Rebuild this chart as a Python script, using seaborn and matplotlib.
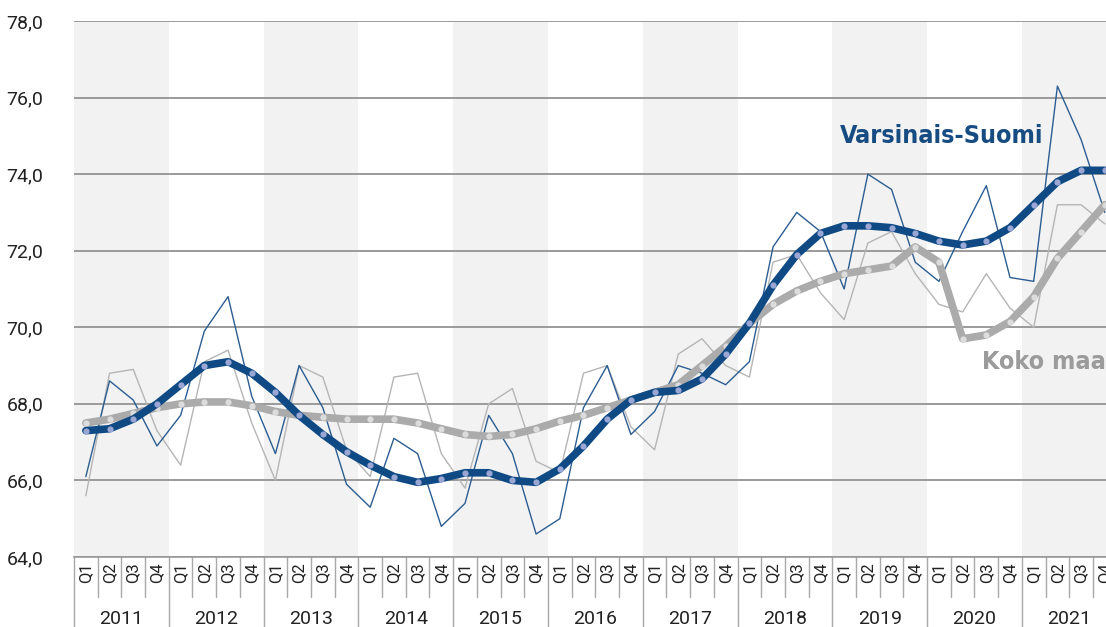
import numpy as np
import pandas as pd
import matplotlib
matplotlib.use("Agg")
import matplotlib.pyplot as plt
import seaborn as sns

years = [str(y) for y in range(2011, 2022)]
quarters = ["Q1", "Q2", "Q3", "Q4"]

# Varsinais-Suomi, quarterly raw values
vs_raw = [66.1, 68.6, 68.1, 66.9,
          67.7, 69.9, 70.8, 68.2,
          66.7, 69.0, 67.9, 65.9,
          65.3, 67.1, 66.7, 64.8,
          65.4, 67.7, 66.7, 64.6,
          65.0, 67.9, 69.0, 67.2,
          67.8, 69.0, 68.8, 68.5,
          69.1, 72.1, 73.0, 72.5,
          71.0, 74.0, 73.6, 71.7,
          71.2, 72.5, 73.7, 71.3,
          71.2, 76.3, 74.9, 73.0]
# Varsinais-Suomi trend
vs_trend = [67.3, 67.35, 67.6, 68.0,
            68.5, 69.0, 69.1, 68.8,
            68.3, 67.7, 67.2, 66.75,
            66.4, 66.1, 65.95, 66.05,
            66.2, 66.2, 66.0, 65.95,
            66.3, 66.9, 67.6, 68.1,
            68.3, 68.35, 68.65, 69.3,
            70.1, 71.1, 71.9, 72.45,
            72.65, 72.65, 72.6, 72.45,
            72.25, 72.15, 72.25, 72.6,
            73.2, 73.8, 74.1, 74.1]
# Koko maa, quarterly raw values
km_raw = [65.6, 68.8, 68.9, 67.3,
          66.4, 69.1, 69.4, 67.5,
          66.0, 69.0, 68.7, 66.8,
          66.1, 68.7, 68.8, 66.7,
          65.8, 68.0, 68.4, 66.5,
          66.2, 68.8, 69.0, 67.4,
          66.8, 69.3, 69.7, 69.0,
          68.7, 71.7, 71.9, 70.9,
          70.2, 72.2, 72.5, 71.4,
          70.6, 70.4, 71.4, 70.5,
          70.0, 73.2, 73.2, 72.7]
# Koko maa trend
km_trend = [67.5, 67.6, 67.75, 67.9,
            68.0, 68.05, 68.05, 67.95,
            67.8, 67.7, 67.65, 67.6,
            67.6, 67.6, 67.5, 67.35,
            67.2, 67.15, 67.2, 67.35,
            67.55, 67.7, 67.9, 68.1,
            68.3, 68.5, 69.0, 69.5,
            70.1, 70.6, 70.95, 71.2,
            71.4, 71.5, 71.6, 72.1,
            71.7, 69.7, 69.8, 70.15,
            70.8, 71.8, 72.5, 73.2]

n = len(vs_raw)
df = pd.DataFrame({"t": np.arange(n), "vs_raw": vs_raw, "vs_trend": vs_trend,
                   "km_raw": km_raw, "km_trend": km_trend})

sns.set_style("white")
plt.rcParams["font.family"] = ["Roboto", "DejaVu Sans"]

fig = plt.figure(figsize=(11.06, 6.27), dpi=100)
ax = fig.add_axes([74 / 1106, 70 / 627, 1 - 74 / 1106, 536 / 627])

# alternating year shading
for k in range(len(years)):
    if k % 2 == 0:
        ax.axvspan(4 * k - 0.5, 4 * k + 3.5, color="#f2f2f2", lw=0, zorder=0)

for v in range(64, 79, 2):
    ax.axhline(v, color="#9a9a9a", lw=1.4, zorder=1)

blue = "#0f4a85"
gray = "#ababab"
sns.lineplot(data=df, x="t", y="km_raw", ax=ax, color="#b5b5b5", lw=1.0, zorder=2)
sns.lineplot(data=df, x="t", y="vs_raw", ax=ax, color="#2b5d92", lw=1.0, zorder=3)
sns.lineplot(data=df, x="t", y="km_trend", ax=ax, color=gray, lw=5.5, zorder=4,
             marker="o", markersize=4.5, markerfacecolor="#dcdcdc", markeredgewidth=0,
             solid_joinstyle="round", solid_capstyle="round")
sns.lineplot(data=df, x="t", y="vs_trend", ax=ax, color=blue, lw=5.5, zorder=5,
             marker="o", markersize=4.5, markerfacecolor="#9aa6d4", markeredgewidth=0,
             solid_joinstyle="round", solid_capstyle="round")

ax.set_xlim(-0.5, 43.05)
ax.set_ylim(64, 78)
ax.set_yticks(range(64, 79, 2))
ax.set_yticklabels([f"{v},0" for v in range(64, 79, 2)], fontsize=14, color="#222222")
ax.tick_params(axis="y", length=0, pad=22)
ax.set_xticks(range(n))
ax.set_xticklabels(quarters * len(years), rotation=90, fontsize=12, color="#222222")
ax.tick_params(axis="x", length=0, pad=4)
ax.set_xlabel("")
ax.set_ylabel("")
for s in ["top", "right", "left"]:
    ax.spines[s].set_visible(False)
ax.spines["bottom"].set_color("#9a9a9a")
ax.spines["bottom"].set_linewidth(1.2)

trans = ax.get_xaxis_transform()
for i in range(n + 1):
    x = i - 0.5
    y_end = -0.13 if i % 4 == 0 else -0.075
    ax.plot([x, x], [0, y_end], transform=trans, color="#a8a8a8", lw=1.0, clip_on=False)
for k, yr in enumerate(years):
    ax.text(4 * k + 1.5, -0.115, yr, transform=trans, ha="center", va="center",
            fontsize=14, color="#222222")

label_font = dict(family="DejaVu Sans", fontstretch="condensed", fontweight="bold", fontsize=18)
ax.text(36.1, 75.0, "Varsinais-Suomi", color="#164c82", ha="center", va="center",
        zorder=6, **label_font)
ax.text(37.8, 69.1, "Koko maa", color="#9b9b9b", ha="left", va="center",
        zorder=6, **label_font)

fig.savefig("out.png", dpi=100)
